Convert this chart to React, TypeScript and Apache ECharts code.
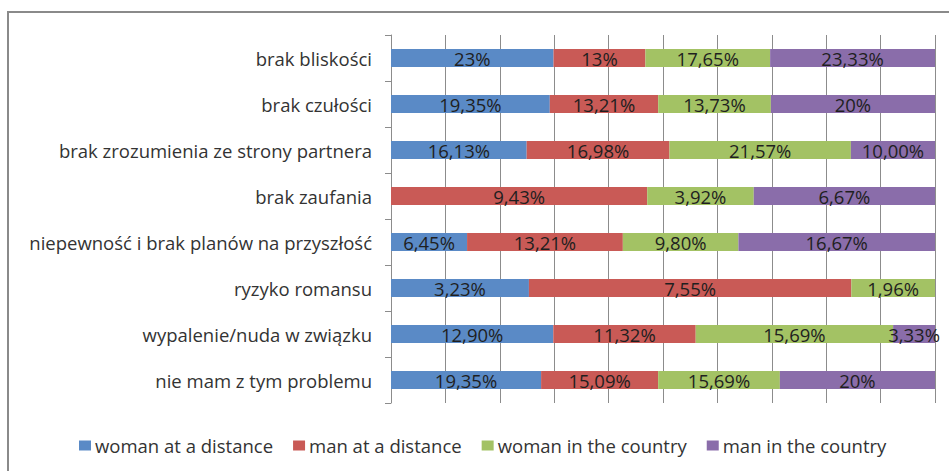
import React, { useEffect, useRef } from "react";
import * as echarts from "echarts";

const categories = [
  "brak bliskości",
  "brak czułości",
  "brak zrozumienia ze strony partnera",
  "brak zaufania",
  "niepewność i brak planów na przyszłość",
  "ryzyko romansu",
  "wypalenie/nuda w związku",
  "nie mam z tym problemu",
];

const seriesNames = [
  "woman at a distance",
  "man at a distance",
  "woman in the country",
  "man in the country",
];

const womanDistance = [23, 19.35, 16.13, 0, 6.45, 3.23, 12.9, 19.35];
const manDistance = [13, 13.21, 16.98, 9.43, 13.21, 7.55, 11.32, 15.09];
const womanCountry = [17.65, 13.73, 21.57, 3.92, 9.8, 1.96, 15.69, 15.69];
const manCountry = [23.33, 20, 10.0, 6.67, 16.67, 0, 3.33, 20];

const womanDistanceLabels = ["23%", "19,35%", "16,13%", "", "6,45%", "3,23%", "12,90%", "19,35%"];
const manDistanceLabels = ["13%", "13,21%", "16,98%", "9,43%", "13,21%", "7,55%", "11,32%", "15,09%"];
const womanCountryLabels = ["17,65%", "13,73%", "21,57%", "3,92%", "9,80%", "1,96%", "15,69%", "15,69%"];
const manCountryLabels = ["23,33%", "20%", "10,00%", "6,67%", "16,67%", "", "3,33%", "20%"];

const colors = ["#5A8AC6", "#C95A56", "#A3C264", "#8A6DAA"];

const FONT = "'Open Sans', Lato, sans-serif";

export default function App() {
  const ref = useRef<HTMLDivElement>(null);

  useEffect(() => {
    if (!ref.current) return;
    const chart = echarts.init(ref.current, undefined, { renderer: "svg" });
    const raw = [womanDistance, manDistance, womanCountry, manCountry];
    const labels = [womanDistanceLabels, manDistanceLabels, womanCountryLabels, manCountryLabels];
    const totals = categories.map((_, i) => raw.reduce((s, arr) => s + arr[i], 0));

    const series = raw.map((arr, si) => ({
      name: seriesNames[si],
      type: "bar",
      stack: "total",
      barWidth: 18,
      itemStyle: { color: colors[si] },
      label: {
        show: true,
        position: "inside",
        color: "#1f1f1f",
        fontFamily: FONT,
        fontSize: 18.5,
        formatter: (p: any) => labels[si][p.dataIndex],
      },
      data: arr.map((v, i) => (v === 0 ? 0 : (v / totals[i]) * 100)),
    }));

    chart.setOption({
      animation: false,
      color: colors,
      graphic: [
        {
          type: "rect",
          shape: { x: 8, y: 12, width: 1000, height: 500 },
          style: { fill: "none", stroke: "#8a8a8a", lineWidth: 2 },
          silent: true,
        },
      ],
      grid: { left: 391, right: 14, top: 35, bottom: 68, containLabel: false },
      xAxis: {
        type: "value",
        min: 0,
        max: 100,
        interval: 10,
        axisLabel: { show: false },
        axisLine: { show: false },
        axisTick: { show: false },
        splitLine: { show: true, lineStyle: { color: "#8c8c8c", width: 1 } },
      },
      yAxis: {
        type: "category",
        inverse: true,
        data: categories,
        axisLine: { show: true, lineStyle: { color: "#8c8c8c", width: 1 } },
        axisTick: { show: true, length: 6, lineStyle: { color: "#8c8c8c" } },
        axisLabel: { color: "#333333", fontFamily: FONT, fontSize: 18.5, margin: 19 },
      },
      legend: {
        bottom: 11,
        left: 74,
        icon: "rect",
        itemWidth: 12,
        itemHeight: 10,
        itemGap: 20,
        textStyle: { color: "#333333", fontFamily: FONT, fontSize: 18.5, padding: [0, 0, 0, -1] },
        data: seriesNames,
      },
      series,
    });
    return () => chart.dispose();
  }, []);

  return (
    <div
      ref={ref}
      style={{ position: "fixed", left: 0, top: 0, width: 949, height: 471, background: "#fff" }}
    />
  );
}
